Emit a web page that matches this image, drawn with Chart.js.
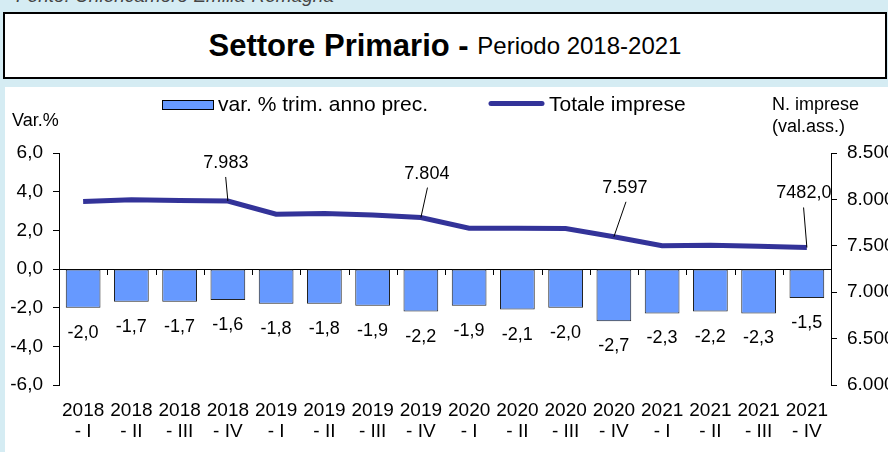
<!DOCTYPE html>
<html>
<head>
<meta charset="utf-8">
<script src="https://cdn.jsdelivr.net/npm/chart.js@4.4.1/dist/chart.umd.min.js"></script>
<style>
  html, body { margin: 0; padding: 0; }
  body { width: 888px; height: 452px; background: #d5ecf3; position: relative; overflow: hidden;
         font-family: "Liberation Sans", Arial, sans-serif; }
  #fonte { position: absolute; left: 16px; top: -15px; font-size: 19px; font-style: italic; color: #444; white-space: nowrap; }
  #titlebox { position: absolute; left: 3px; top: 12px; width: 880px; height: 63px; border: 2px solid #000; background: #fff;
              display: flex; align-items: center; justify-content: center; white-space: nowrap; }
  #titlebox .b { font-weight: bold; font-size: 31px; }
  #titlebox .n { font-size: 24px; }
  #panel { position: absolute; left: 5px; top: 87px; width: 883px; height: 365px; background: #fff; }
  canvas { display: block; }
</style>
</head>
<body>
<div id="fonte">Fonte: Unioncamere Emilia-Romagna</div>
<div id="titlebox"><span class="b">Settore Primario -&nbsp;</span><span class="n">Periodo 2018-2021</span></div>
<div id="panel"><canvas id="c" width="883" height="365"></canvas></div>
<script>
// ---- data ----
const categories = [
  ["2018", "- I"], ["2018", "- II"], ["2018", "- III"], ["2018", "- IV"],
  ["2019", "- I"], ["2019", "- II"], ["2019", "- III"], ["2019", "- IV"],
  ["2020", "- I"], ["2020", "- II"], ["2020", "- III"], ["2020", "- IV"],
  ["2021", "- I"], ["2021", "- II"], ["2021", "- III"], ["2021", "- IV"]
];
const varTrim = [-2.0, -1.7, -1.7, -1.6, -1.8, -1.8, -1.9, -2.2, -1.9, -2.1, -2.0, -2.7, -2.3, -2.2, -2.3, -1.5];
const totaleImprese = [7978, 7995, 7988, 7983, 7840, 7848, 7832, 7804, 7690, 7688, 7686, 7597, 7501, 7505, 7495, 7482];
const lineLabelTexts = ["", "", "", "7.983", "", "", "", "7.804", "", "", "", "7.597", "", "", "", "7482,0"];
const leftTicks = { min: -6, max: 6, step: 2 };
const rightTicks = { min: 6000, max: 8500, step: 500 };
const seriesNames = ["var. % trim. anno prec.", "Totale imprese"];

// ---- styles ----
const FONT = "'Liberation Sans', Arial, sans-serif";
const BAR_COLOR = "#6699ff";
const LINE_COLOR = "#333399";
// label offsets (relative to point) for the line callouts
const calloutOffsets = { 3: [-2, -38], 7: [6, -44], 11: [11, -49], 15: [-3, -54] };

const fmtLeft = v => (Math.round(v * 10) / 10).toFixed(1).replace('.', ',');
const fmtRight = v => String(Math.round(v)).replace(/\B(?=(\d{3})+(?!\d))/g, '.');

const decorPlugin = {
  id: 'decor',
  beforeDatasetsDraw(chart) {
    const ctx = chart.ctx, ca = chart.chartArea;
    const y0 = chart.scales.y.getPixelForValue(0);
    const xs = chart.scales.x;
    ctx.save();
    ctx.strokeStyle = '#000';
    ctx.lineWidth = 1;
    ctx.beginPath();
    ctx.moveTo(ca.left, Math.round(y0) + 0.5);
    ctx.lineTo(ca.right, Math.round(y0) + 0.5);
    const n = categories.length;
    const w = (ca.right - ca.left) / n;
    for (let i = 1; i < n; i++) {
      const x = Math.round(xs.getPixelForValue(i) - w / 2) + 0.5;
      ctx.moveTo(x, Math.round(y0));
      ctx.lineTo(x, Math.round(y0) + 6);
    }
    ctx.stroke();
    ctx.restore();
  },
  afterDatasetsDraw(chart) {
    const ctx = chart.ctx;
    ctx.save();
    // bar labels
    const barMeta = chart.getDatasetMeta(0);
    ctx.fillStyle = '#000';
    ctx.font = "18px " + FONT;
    ctx.textAlign = 'center';
    ctx.textBaseline = 'middle';
    barMeta.data.forEach((el, i) => {
      ctx.fillText(fmtLeft(varTrim[i]), el.x, el.y + 25);
    });
    // line callouts
    const lineMeta = chart.getDatasetMeta(1);
    lineMeta.data.forEach((el, i) => {
      const t = lineLabelTexts[i];
      if (!t) return;
      const off = calloutOffsets[i] || [0, -40];
      const tx = el.x + off[0], ty = el.y + off[1];
      ctx.fillText(t, tx, ty);
      ctx.beginPath();
      ctx.strokeStyle = '#000';
      ctx.lineWidth = 1;
      ctx.moveTo(tx + off[0] * 0.1, ty + 14);
      ctx.lineTo(el.x, el.y);
      ctx.stroke();
    });
    ctx.restore();
  },
  afterDraw(chart) {
    const ctx = chart.ctx;
    ctx.save();
    ctx.fillStyle = '#000';
    ctx.textBaseline = 'alphabetic';
    ctx.textAlign = 'left';
    // legend
    ctx.fillStyle = BAR_COLOR;
    ctx.fillRect(157, 13, 52, 10);
    ctx.strokeStyle = '#000';
    ctx.lineWidth = 1;
    ctx.strokeRect(157.5, 13.5, 51, 9);
    ctx.fillStyle = '#000';
    ctx.font = "21px " + FONT;
    ctx.fillText(seriesNames[0], 213, 24);
    ctx.strokeStyle = LINE_COLOR;
    ctx.lineWidth = 5;
    ctx.lineCap = 'round';
    ctx.beginPath();
    ctx.moveTo(486, 16.5);
    ctx.lineTo(537, 16.5);
    ctx.stroke();
    ctx.fillText(seriesNames[1], 544, 24);
    // axis titles
    ctx.font = "18px " + FONT;
    ctx.fillText("Var.%", 7, 39);
    ctx.fillText("N. imprese", 767, 23);
    ctx.fillText("(val.ass.)", 767, 45);
    ctx.restore();
  }
};

Chart.defaults.font.family = FONT;
Chart.defaults.color = '#000';

new Chart(document.getElementById('c'), {
  data: {
    labels: categories,
    datasets: [
      {
        type: 'bar',
        label: seriesNames[0],
        data: varTrim,
        yAxisID: 'y',
        backgroundColor: BAR_COLOR,
        borderColor: '#222',
        borderWidth: 1,
        borderSkipped: false,
        barPercentage: 0.72,
        categoryPercentage: 1.0,
        order: 2
      },
      {
        type: 'line',
        label: seriesNames[1],
        data: totaleImprese,
        yAxisID: 'y2',
        borderColor: LINE_COLOR,
        borderWidth: 5,
        pointRadius: 0,
        tension: 0,
        fill: false,
        order: 1
      }
    ]
  },
  options: {
    responsive: false,
    animation: false,
    layout: { padding: { top: 66, bottom: 0, left: 0, right: 0 } },
    plugins: { legend: { display: false }, tooltip: { enabled: false } },
    scales: {
      x: {
        type: 'category',
        offset: true,
        grid: { display: false, drawTicks: false },
        border: { display: false },
        ticks: { font: { size: 19, lineHeight: 1.08 }, padding: 16, maxRotation: 0, autoSkip: false, color: '#000' },
        afterFit(s) { s.height = 67; }
      },
      y: {
        position: 'left',
        min: leftTicks.min, max: leftTicks.max,
        ticks: { stepSize: leftTicks.step, font: { size: 19 }, padding: 10, callback: v => fmtLeft(v), color: '#000' },
        grid: { drawOnChartArea: false, drawTicks: true, tickLength: 6, color: '#000' },
        border: { display: true, color: '#000', width: 1 },
        afterFit(s) { s.width = 54; }
      },
      y2: {
        position: 'right',
        min: rightTicks.min, max: rightTicks.max,
        ticks: { stepSize: rightTicks.step, font: { size: 19 }, padding: 10, callback: v => fmtRight(v), color: '#000' },
        grid: { drawOnChartArea: false, drawTicks: true, tickLength: 6, color: '#000' },
        border: { display: true, color: '#000', width: 1 },
        afterFit(s) { s.width = 57; }
      }
    }
  },
  plugins: [decorPlugin]
});
</script>
</body>
</html>
